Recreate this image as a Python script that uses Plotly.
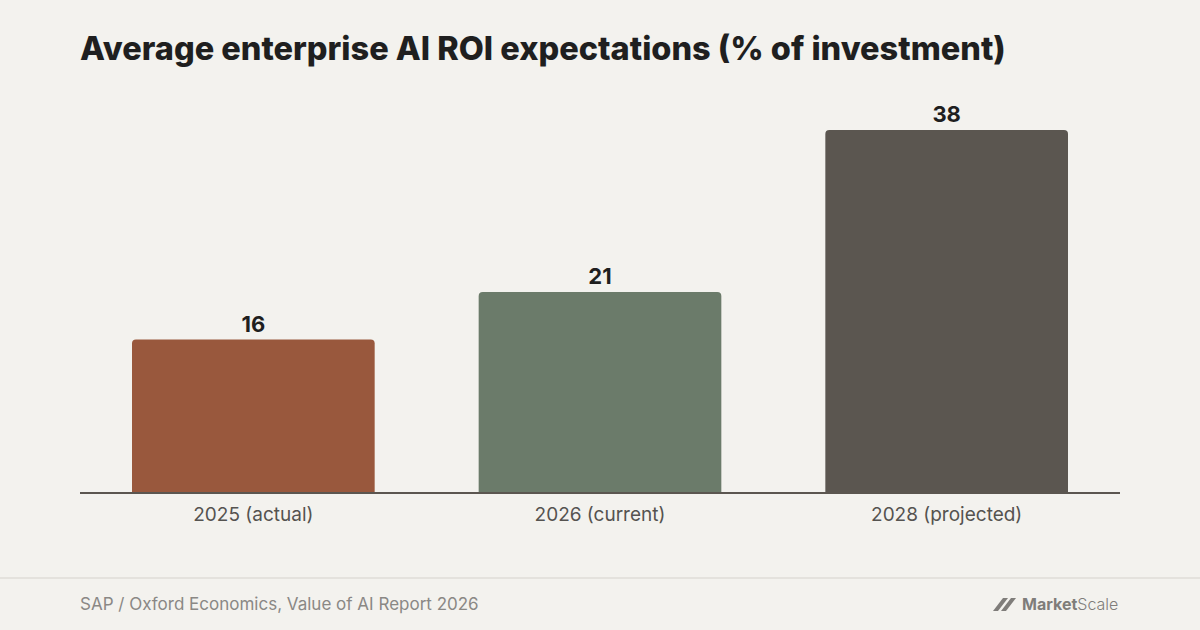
import plotly.graph_objects as go

# Dados do gráfico
categorias = ["2025 (actual)", "2026 (current)", "2028 (projected)"]
valores = [16, 21, 38]
cores = ["#99583d", "#6b7b6a", "#5b5650"]

titulo = "Average enterprise AI ROI expectations (% of investment)"
fonte = "SAP / Oxford Economics, Value of AI Report 2026"

fundo = "#f3f2ee"

fig = go.Figure()
fig.add_trace(go.Bar(
    x=categorias,
    y=valores,
    marker=dict(color=cores, cornerradius=4, line=dict(width=0)),
    width=0.70,
    text=[str(v) for v in valores],
    textposition="outside",
    textfont=dict(family="Inter, Roboto, sans-serif", size=22, color="#1f1f1f", weight="bold"),
    cliponaxis=False,
    hoverinfo="skip",
))

fig.update_layout(
    width=1200, height=630,
    paper_bgcolor=fundo, plot_bgcolor=fundo,
    margin=dict(l=80, r=80, t=92, b=138),
    showlegend=False,
    bargap=0.30,
    font=dict(family="Inter, Roboto, sans-serif"),
)

fig.update_xaxes(
    showgrid=False, zeroline=False,
    showline=True, linecolor="#5b5650", linewidth=2,
    ticks="", tickfont=dict(size=19, color="#555350"),
    ticklabelstandoff=4,
)
fig.update_yaxes(
    range=[0, 42], visible=False, showgrid=False, zeroline=False,
)

# Título
fig.add_annotation(
    text=titulo,
    xref="paper", yref="paper", x=0, y=1,
    xanchor="left", yanchor="middle",
    xshift=-2, yshift=-48 + 92,
    showarrow=False,
    font=dict(family="Inter, Roboto, sans-serif", size=32.5, color="#1f1f1f", weight=800),
)

# Linha separadora do rodapé
fig.add_shape(
    type="line", xref="paper", yref="paper",
    x0=-80 / 1040, x1=1 + 80 / 1040, y0=-86 / 400, y1=-86 / 400,
    line=dict(color="#e4e2dd", width=2),
)

# Fonte
fig.add_annotation(
    text=fonte,
    xref="paper", yref="paper", x=0, y=-112 / 400,
    xanchor="left", yanchor="middle", showarrow=False, xshift=-2,
    font=dict(family="Inter, Roboto, sans-serif", size=17, color="#8a8885"),
)

# Logo MarketScale
fig.add_annotation(
    text="<b>Market</b><span style='font-weight:300'>Scale</span>",
    xref="paper", yref="paper", x=1, y=-112 / 400,
    xanchor="right", yanchor="middle", showarrow=False,
    font=dict(family="Inter, Roboto, sans-serif", size=16, color="#7f7d7a"),
)
# ícone do logo (barras inclinadas)
for dx in [0, 8]:
    x0 = 993 + dx
    fig.add_shape(
        type="path", xref="paper", yref="paper",
        path="M {a},{b} L {c},{d} L {e},{d} L {f},{b} Z".format(
            a=(x0 - 80) / 1040, b=-119 / 400,
            c=(x0 + 10 - 80) / 1040, d=-106 / 400,
            e=(x0 + 15 - 80) / 1040, f=(x0 + 5 - 80) / 1040,
        ),
        fillcolor="#7f7d7a", line=dict(width=0),
    )

fig.write_html(
    "out.html",
    config={"displayModeBar": False},
    post_script="document.body.style.margin='0';document.body.style.background='%s';" % fundo,
)
